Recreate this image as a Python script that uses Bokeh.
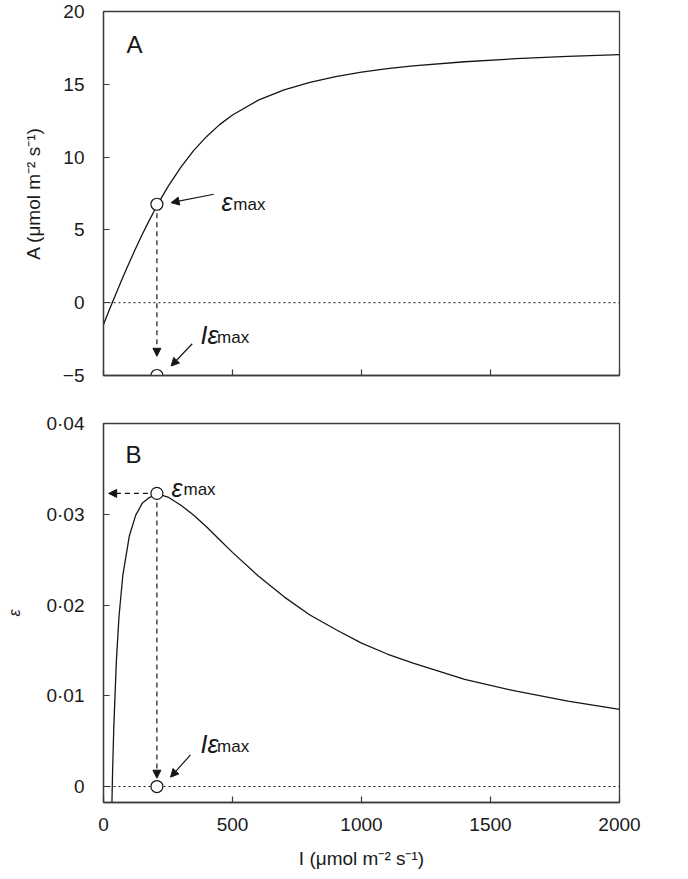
import numpy as np
from bokeh.plotting import figure
from bokeh.layouts import column
from bokeh.models import (FixedTicker, CustomJSTickFormatter, Span, Arrow,
                          NormalHead, Label, Range1d)
from bokeh.embed import file_html
from bokeh.resources import INLINE

# ---- data ----
I_A = [0, 20, 35, 50, 75, 100, 125, 150, 175, 200, 210, 225, 250, 300, 350,
       400, 450, 500, 600, 700, 800, 900, 1000, 1100, 1200, 1400, 1600, 1800, 2000]
A_vals = [-1.5, -0.61, 0.05, 0.69, 1.75, 2.76, 3.74, 4.68, 5.57, 6.42, 6.74, 7.22,
          7.97, 9.31, 10.46, 11.42, 12.23, 12.89, 13.91, 14.62, 15.14, 15.53,
          15.83, 16.07, 16.26, 16.55, 16.76, 16.92, 17.04]

I_eps = [30, 35, 40, 50, 60, 75, 100, 125, 150, 175, 200, 210, 225, 250, 300,
         350, 400, 450, 500, 600, 700, 800, 900, 1000, 1100, 1200, 1400, 1600,
         1800, 2000]
eps_vals = [-0.0056, 0.0014, 0.0066, 0.0139, 0.0187, 0.0233, 0.0276, 0.0299,
            0.0312, 0.0318, 0.0321, 0.0322, 0.0321, 0.0319, 0.0310, 0.0299,
            0.0286, 0.0272, 0.0258, 0.0232, 0.0209, 0.0189, 0.0173, 0.0158,
            0.0146, 0.0136, 0.0118, 0.0105, 0.0094, 0.0085]

emax_I = 207          # light level at maximum efficiency
emax_A = 6.76         # A at that light level
emax_eps = 0.0323     # maximum efficiency

I_ticks = [0, 500, 1000, 1500, 2000]
A_ticks = [-5, 0, 5, 10, 15, 20]
eps_ticks = [0, 0.01, 0.02, 0.03, 0.04]

FONT = "Liberation Sans"
INK = "#161616"
FRAME = "#3c3c3c"


def style(p):
    p.xgrid.visible = False
    p.ygrid.visible = False
    p.outline_line_color = FRAME
    p.outline_line_width = 1.3
    p.background_fill_color = "white"
    p.border_fill_color = "white"
    for ax in p.axis:
        ax.axis_line_color = FRAME
        ax.axis_line_width = 1.3
        ax.major_tick_in = 6
        ax.major_tick_out = 0
        ax.major_tick_line_color = FRAME
        ax.major_tick_line_width = 1.2
        ax.minor_tick_line_color = None
        ax.major_label_text_font = FONT
        ax.major_label_text_font_size = "19px"
        ax.major_label_text_color = "#1a1a1a"
        ax.axis_label_text_font = FONT
        ax.axis_label_text_font_size = "19px"
        ax.axis_label_text_font_style = "normal"
        ax.axis_label_text_color = "#1a1a1a"


def lab(p, x, y, text, size, style_="normal"):
    p.add_layout(Label(x=x, y=y, text=text, text_font=FONT, text_font_size=size,
                       text_font_style=style_, text_color=INK,
                       text_align="left", text_baseline="alphabetic"))


def arrow(p, x0, y0, x1, y1, dashed=False):
    a = Arrow(x_start=x0, y_start=y0, x_end=x1, y_end=y1,
              line_color=INK, line_width=1.2,
              end=NormalHead(size=8, fill_color=INK, line_color=INK, line_width=1))
    if dashed:
        a.line_dash = "5 4"
        a.level = "underlay"
    p.add_layout(a)


# ---------------- panel A ----------------
p1 = figure(width=648, height=399, output_backend="svg", toolbar_location=None,
            title=None, x_range=Range1d(0, 2000), y_range=Range1d(-5, 20),
            min_border_left=103, min_border_right=29, min_border_top=11,
            min_border_bottom=24)
style(p1)
p1.xaxis.ticker = FixedTicker(ticks=I_ticks)
p1.xaxis.formatter = CustomJSTickFormatter(code="return '';")
p1.xaxis.major_label_standoff = 0
p1.yaxis.ticker = FixedTicker(ticks=A_ticks)
p1.yaxis.major_label_standoff = 19
p1.yaxis.formatter = CustomJSTickFormatter(
    code="return tick < 0 ? '\u2212' + Math.abs(tick) : String(tick);")
p1.yaxis.axis_label = "A (\u03bcmol m\u207b\u00b2 s\u207b\u00b9)"
p1.yaxis.axis_label_standoff = 16

p1.add_layout(Span(location=0, dimension="width", line_color=INK, line_width=1,
                   line_dash="2 3", level="underlay"))
p1.line(I_A, A_vals, line_color=INK, line_width=1.3)
arrow(p1, emax_I, emax_A, emax_I, -3.68, dashed=True)
p1.scatter([emax_I, emax_I], [emax_A, -5], size=12, marker="circle",
           fill_color="white", line_color=INK, line_width=1.2)
arrow(p1, 427, 7.45, 262, 6.87)
arrow(p1, 344, -2.82, 262, -4.35)

lab(p1, 89, 17.72, "A", "24px")
lab(p1, 457, 6.95, "\u03b5", "25px", "italic")
lab(p1, 503, 6.77, "max", "17px")
lab(p1, 376, -2.2, "I\u03b5", "25px", "italic")
lab(p1, 440, -2.38, "max", "17px")

# ---------------- panel B ----------------
p2 = figure(width=648, height=472, output_backend="svg", toolbar_location=None,
            title=None, x_range=Range1d(0, 2000), y_range=Range1d(-0.00176, 0.04),
            min_border_left=103, min_border_right=29, min_border_top=24,
            min_border_bottom=68)
style(p2)
p2.xaxis.ticker = FixedTicker(ticks=I_ticks)
p2.xaxis.major_label_standoff = 15
p2.xaxis.axis_label = "I (\u03bcmol m\u207b\u00b2 s\u207b\u00b9)"
p2.xaxis.axis_label_standoff = 14
p2.yaxis.ticker = FixedTicker(ticks=eps_ticks)
p2.yaxis.major_label_standoff = 19
p2.yaxis.formatter = CustomJSTickFormatter(
    code="return tick == 0 ? '0' : tick.toFixed(2).replace('.', '\u00b7');")
p2.yaxis.axis_label = "\u03b5"
p2.yaxis.axis_label_text_font_style = "italic"
p2.yaxis.axis_label_text_font_size = "16px"
p2.yaxis.axis_label_standoff = 20

p2.add_layout(Span(location=0, dimension="width", line_color=INK, line_width=1,
                   line_dash="2 3", level="underlay"))
p2.line(I_eps, eps_vals, line_color=INK, line_width=1.3)
arrow(p2, emax_I, emax_eps, emax_I, 0.00092, dashed=True)
arrow(p2, emax_I, emax_eps, 20, emax_eps, dashed=True)
p2.scatter([emax_I, emax_I], [emax_eps, 0], size=12, marker="circle",
           fill_color="white", line_color=INK, line_width=1.2)
arrow(p2, 337, 0.00348, 260, 0.00103)

lab(p2, 85, 0.0366, "B", "24px")
lab(p2, 264, 0.0329, "\u03b5", "25px", "italic")
lab(p2, 310, 0.0327, "max", "17px")
lab(p2, 376, 0.00466, "I\u03b5", "25px", "italic")
lab(p2, 440, 0.00444, "max", "17px")

layout = column(p1, p2, spacing=0)
open("out.html", "w").write(file_html(layout, INLINE))
